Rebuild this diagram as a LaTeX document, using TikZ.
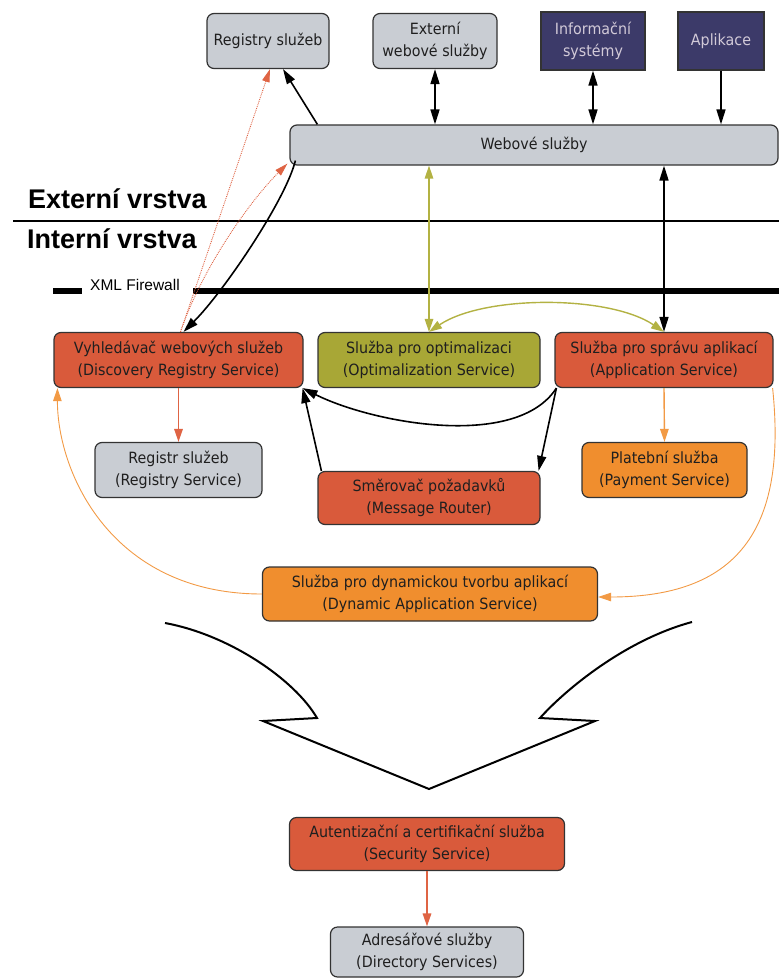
\documentclass[tikz,border=0pt]{standalone}
\usepackage{fontspec}
\setmainfont{DejaVu Sans}[FakeStretch=0.92]
\newfontfamily\headfont{Liberation Sans}
\usetikzlibrary{arrows.meta}
\definecolor{boxgray}{HTML}{C9CDD3}
\definecolor{boxred}{HTML}{D95A3B}
\definecolor{boxolive}{HTML}{A8A736}
\definecolor{boxorange}{HTML}{F08E2E}
\definecolor{boxnavy}{HTML}{3C3A69}
\definecolor{navytext}{HTML}{D2CAD8}
\definecolor{linered}{HTML}{DF6444}
\definecolor{lineolive}{HTML}{B3B243}
\definecolor{lineorange}{HTML}{F29A45}
\tikzset{
  svc/.style={draw=black!80, line width=1.2pt, rounded corners=7pt, align=center,
    inner sep=0pt, text=black!88, font=\fontsize{15.5}{22}\selectfont},
  grayb/.style={svc, fill=boxgray},
  redb/.style={svc, fill=boxred},
  oliveb/.style={svc, fill=boxolive},
  orangeb/.style={svc, fill=boxorange},
  navyb/.style={svc, fill=boxnavy, rounded corners=0pt, text=navytext},
  tipblk/.tip={Triangle[length=15pt,width=9pt]},
  blkarr/.style={line width=1.6pt, black, -tipblk},
  blkboth/.style={line width=1.6pt, black, tipblk-tipblk},
  olvboth/.style={line width=1.4pt, lineolive, {Triangle[length=13pt,width=8.5pt]}-{Triangle[length=13pt,width=8.5pt]}},
  redarr/.style={line width=1.6pt, linered, -{Triangle[length=13pt,width=8.5pt]}},
  reddot/.style={line width=0.9pt, linered, densely dotted, -{Triangle[length=13pt,width=7.5pt]}},
  orgarr/.style={line width=1.4pt, lineorange, -{Triangle[length=13pt,width=8.5pt]}},
  orgthin/.style={line width=0.9pt, lineorange, -{Triangle[length=13pt,width=8.5pt]}},
}
\begin{document}
\begin{tikzpicture}[x=1pt,y=-1pt]
\useasboundingbox (0,0) rectangle (779,979);

% layers
\node[anchor=base west, inner sep=0pt] (hext) at (28,208) {\headfont\bfseries\fontsize{27}{27}\selectfont Externí vrstva};
\node[anchor=base west, inner sep=0pt] (hint) at (27,248) {\headfont\bfseries\fontsize{27}{27}\selectfont Interní vrstva};
\coordinate (layL) at (13,221);
\coordinate (layR) at (779,221);
\draw[line width=1.6pt] (layL) -- (layR);
\coordinate (fwA) at (53,291);
\coordinate (fwB) at (82,291);
\coordinate (fwC) at (193,291);
\coordinate (fwD) at (779,291);
\draw[line width=6pt] (fwA) -- (fwB);
\draw[line width=6pt] (fwC) -- (fwD);
\node[anchor=base west, inner sep=0pt] (fwt) at (90,290) {\headfont\fontsize{15.5}{15.5}\selectfont XML Firewall};

% top row
\node[grayb, minimum width=122pt, minimum height=55pt] (reg) at (268,41) {Registry služeb};
\node[grayb, minimum width=124pt, minimum height=55pt] (ext) at (435,41) {Externí\\webové služby};
\node[navyb, minimum width=104pt, minimum height=58pt] (inf) at (593,41) {Informační\\systémy};
\node[navyb, minimum width=86pt, minimum height=58pt] (apl) at (721,41) {Aplikace};
\node[grayb, minimum width=488pt, minimum height=40pt] (web) at (534,145) {Webové služby};

% middle
\node[redb, minimum width=249pt, minimum height=55pt] (disc) at (178.5,360) {Vyhledávač webových služeb\\(Discovery Registry Service)};
\node[oliveb, minimum width=222pt, minimum height=55pt] (opt) at (429,360) {Služba pro optimalizaci\\(Optimalization Service)};
\node[redb, minimum width=218pt, minimum height=55pt] (app) at (664,360) {Služba pro správu aplikací\\(Application Service)};
\node[grayb, minimum width=167pt, minimum height=55pt] (regs) at (178.5,470) {Registr služeb\\(Registry Service)};
\node[redb, minimum width=222pt, minimum height=53pt] (router) at (429,498) {Směrovač požadavků\\(Message Router)};
\node[orangeb, minimum width=165pt, minimum height=55pt] (pay) at (664.5,470) {Platební služba\\(Payment Service)};
\node[orangeb, minimum width=335pt, minimum height=54pt] (dyn) at (430,594) {Služba pro dynamickou tvorbu aplikací\\(Dynamic Application Service)};

% bottom
\node[redb, minimum width=275pt, minimum height=53pt] (sec) at (427,844) {Autentizační a certifikační služba\\(Security Service)};
\node[grayb, minimum width=193pt, minimum height=50pt] (dir) at (427,952) {Adresářové služby\\(Directory Services)};

% top connectors
\draw[blkarr] ([xshift=28pt]web.north west) -- ([xshift=15pt]reg.south);
\draw[blkboth] (ext.south) -- (ext.south |- web.north);
\draw[blkboth] (inf.south) -- (inf.south |- web.north);
\draw[blkarr] (apl.south) -- (apl.south |- web.north);
\draw[olvboth] (opt.north |- web.south) -- (opt.north);
\draw[blkboth] (app.north |- web.south) -- (app.north);
\draw[olvboth] (opt.north) .. controls +(55,-37) and +(-55,-37) .. (app.north);

% discovery links
\draw[reddot] ([xshift=2pt]disc.north) -- ([xshift=2pt]reg.south);
\draw[reddot] ([xshift=2pt]disc.north) .. controls +(20,-60) and +(-40,40) .. ([shift={(-2pt,2pt)}]web.south west);
\draw[blkarr] ([shift={(6pt,5pt)}]web.south west) .. controls +(-10,40) and +(40,-40) .. ([xshift=5pt]disc.north);

% middle connectors
\draw[redarr] (disc.south) -- (regs.north);
\draw[blkarr] ([xshift=2pt]app.south west) -- ([xshift=-2pt]router.north east);
\draw[blkarr] ([xshift=2pt]app.south west) .. controls +(-40,62) and +(70,35) .. ([xshift=-1pt]disc.south east);
\draw[blkarr] ([xshift=4pt]router.north west) -- ([xshift=-1pt]disc.south east);
\draw[orgarr] (app.south) -- (pay.north);
\draw[orgthin] ([xshift=-1pt]app.south east) .. controls +(14,135) and +(145,0) .. ([yshift=-3pt]dyn.east);
\draw[orgthin] (dyn.west) .. controls +(-150,0) and +(0,85) .. ([xshift=4pt]disc.south west);

% big arrow shape
\coordinate (bl1) at (165,623);
\coordinate (bl2) at (317,718);
\coordinate (bl3) at (263,721);
\coordinate (btip) at (429,789);
\coordinate (br3) at (595,721);
\coordinate (br2) at (540,718);
\coordinate (br1) at (692,622);
\draw[line width=2pt, line join=miter] (bl1) .. controls (230,635) and (295,680) .. (bl2) -- (bl3) -- (btip) -- (br3) -- (br2) .. controls (565,690) and (625,640) .. (br1);

\draw[redarr] (sec.south) -- (dir.north);
\end{tikzpicture}
\end{document}
